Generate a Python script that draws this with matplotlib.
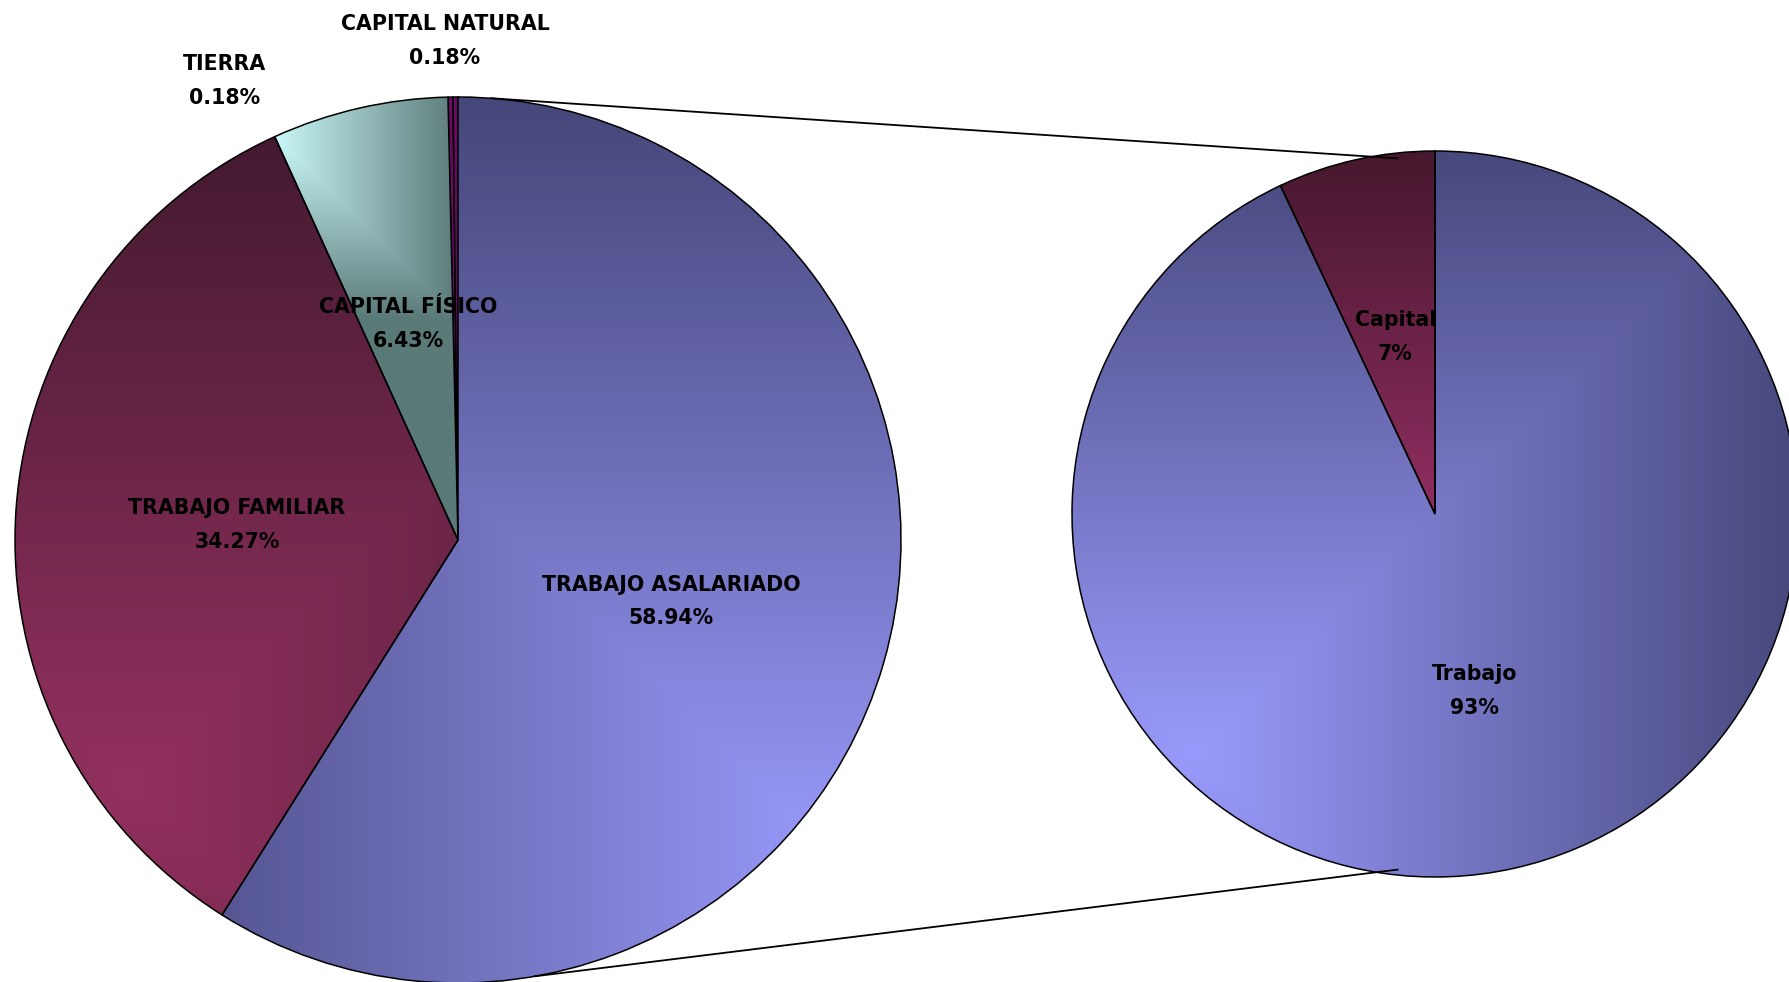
import numpy as np
import matplotlib
matplotlib.use("Agg")
import matplotlib.pyplot as plt
from matplotlib.colors import to_rgb

# Datos del gráfico
categorias = ['TRABAJO ASALARIADO', 'TRABAJO FAMILIAR', 'CAPITAL FÍSICO', 'TIERRA', 'CAPITAL NATURAL']
porcentajes = [58.94, 34.27, 6.43, 0.18, 0.18]
categorias_sec = ['Trabajo', 'Capital']
porcentajes_sec = [93, 7]

# Colores (oscuro, claro), foco del degradado y escala en unidades de radio
estilo_izq = [
    ('#46477A', '#9797F8', (0.80, -0.67), 1.65),
    ('#441A30', '#94315F', (-0.74, -0.55), 1.45),
    ('#5A7A78', '#CCFAFA', (-0.42, 0.92), 0.42),
    ('#6A0A62', None, None, None),
    ('#6A0A62', None, None, None),
]
estilo_der = [
    ('#46477A', '#9A9AFC', (-0.66, -0.66), 1.68),
    ('#47182E', '#922E62', (-0.05, -0.02), 1.0),
]

fig = plt.figure(figsize=(17.9, 9.82), dpi=100)
ax = fig.add_axes([0, 0, 1, 1])

W, H = 1790, 982
centro_izq, radio_izq = (458, 442), 443
centro_der, radio_der = (1435, 468), 363


def degradado(ax, wedge, centro, radio, oscuro, claro, foco, escala):
    n = 500
    xs = np.linspace(-1, 1, n)
    X, Y = np.meshgrid(xs, xs[::-1])
    t = np.maximum(np.abs(X - foco[0]), np.abs(Y - foco[1])) / escala
    t = np.clip(t, 0, 1)
    c0 = np.array(to_rgb(claro))
    c1 = np.array(to_rgb(oscuro))
    img = c0[None, None, :] * (1 - t[..., None]) + c1[None, None, :] * t[..., None]
    im = ax.imshow(img, extent=(centro[0] - radio, centro[0] + radio,
                                centro[1] - radio, centro[1] + radio),
                   zorder=1, interpolation='bilinear')
    im.set_clip_path(wedge)
    wedge.set_facecolor('none')
    wedge.set_zorder(2)


def dibujar_pie(valores, estilos, centro, radio):
    colores = [e[0] for e in estilos]
    wedges, _ = ax.pie(valores, startangle=90, counterclock=False, colors=colores,
                       center=centro, radius=radio,
                       wedgeprops=dict(edgecolor='black', linewidth=1.1))
    for w, (osc, cla, foco, esc) in zip(wedges, estilos):
        if cla is not None:
            degradado(ax, w, centro, radio, osc, cla, foco, esc)
    return wedges


w_izq = dibujar_pie(porcentajes, estilo_izq, centro_izq, radio_izq)
w_der = dibujar_pie(porcentajes_sec, estilo_der, centro_der, radio_der)

fuente = dict(fontsize=14.8, fontweight='bold', ha='center', va='center',
              linespacing=1.85, color='black', zorder=5)

# Etiquetas fuera del pie para las porciones pequeñas
pos_fuera = {'TIERRA': (225, 901), 'CAPITAL NATURAL': (445, 941)}

for w, cat, p in zip(w_izq, categorias, porcentajes):
    texto = f"{cat}\n{p:.2f}%"
    if cat in pos_fuera:
        x, y = pos_fuera[cat]
    else:
        ang = np.deg2rad((w.theta1 + w.theta2) / 2)
        x = centro_izq[0] + 0.5 * radio_izq * np.cos(ang)
        y = centro_izq[1] + 0.5 * radio_izq * np.sin(ang)
    ax.text(x, y, texto, **fuente)

for w, cat, p in zip(w_der, categorias_sec, porcentajes_sec):
    ang = np.deg2rad((w.theta1 + w.theta2) / 2)
    x = centro_der[0] + 0.5 * radio_der * np.cos(ang)
    y = centro_der[1] + 0.5 * radio_der * np.sin(ang)
    ax.text(x, y, f"{cat}\n{p}%", **fuente)

# Líneas de conexión entre los dos pies
for a_izq, a_der in [(85.7, 96.0), (-80.0, -96.0)]:
    x0 = centro_izq[0] + radio_izq * np.cos(np.deg2rad(a_izq))
    y0 = centro_izq[1] + radio_izq * np.sin(np.deg2rad(a_izq))
    x1 = centro_der[0] + 0.985 * radio_der * np.cos(np.deg2rad(a_der))
    y1 = centro_der[1] + 0.985 * radio_der * np.sin(np.deg2rad(a_der))
    ax.plot([x0, x1], [y0, y1], color='black', linewidth=1.3, zorder=4)

ax.set_xlim(0, W)
ax.set_ylim(0, H)
ax.set_aspect('equal')
ax.axis('off')

fig.savefig('out.png', dpi=100, facecolor='white')
